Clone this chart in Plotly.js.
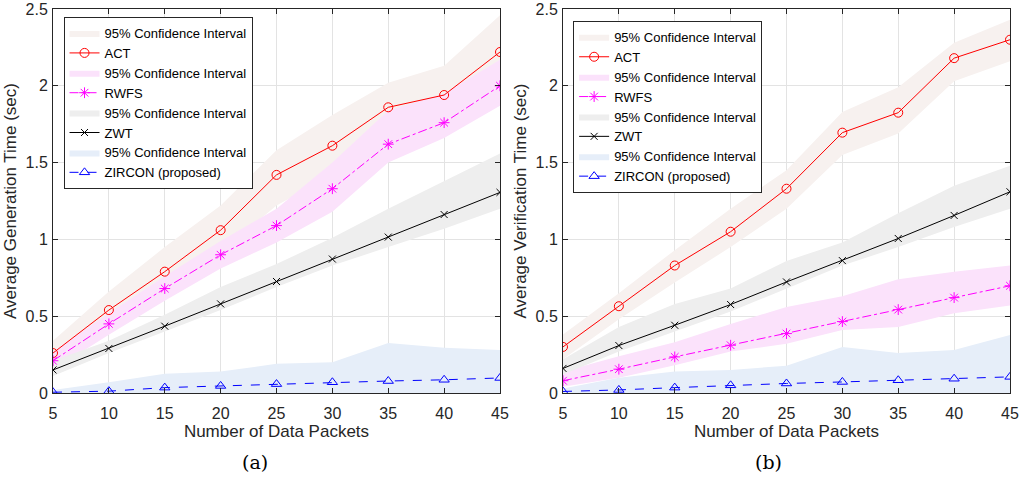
<!DOCTYPE html>
<html>
<head>
<meta charset="utf-8">
<script src="https://cdn.plot.ly/plotly-3.0.1.min.js"></script>
<style>html,body{margin:0;padding:0;background:#fff;}#chart{width:1019px;height:477px;}</style>
</head>
<body>
<div id="chart"></div>
<script>
const packets = [5, 10, 15, 20, 25, 30, 35, 40, 45];

// (a) Average Generation Time
const genACT    = [0.26, 0.54, 0.79, 1.06, 1.42, 1.61, 1.86, 1.94, 2.22];
const genACTlo  = [0.18, 0.43, 0.66, 0.92, 1.22, 1.42, 1.66, 1.75, 2.02];
const genACThi  = [0.34, 0.66, 0.95, 1.22, 1.58, 1.81, 2.02, 2.13, 2.46];
const genRWFS   = [0.21, 0.45, 0.68, 0.90, 1.09, 1.33, 1.62, 1.76, 2.00];
const genRWFSlo = [0.15, 0.38, 0.60, 0.81, 0.98, 1.18, 1.50, 1.66, 1.87];
const genRWFShi = [0.27, 0.52, 0.76, 0.99, 1.20, 1.50, 1.84, 1.95, 2.17];
const genZWT    = [0.15, 0.29, 0.435, 0.58, 0.726, 0.872, 1.015, 1.162, 1.306];
const genZWTlo  = [0.11, 0.26, 0.40, 0.54, 0.69, 0.83, 0.95, 1.07, 1.20];
const genZWThi  = [0.21, 0.34, 0.51, 0.69, 0.84, 1.01, 1.20, 1.38, 1.56];
const genZIR    = [0.005, 0.012, 0.035, 0.046, 0.058, 0.07, 0.078, 0.086, 0.098];
const genZIRlo  = [0.0, 0.0, 0.0, 0.0, 0.0, 0.0, 0.0, 0.0, 0.0];
const genZIRhi  = [0.02, 0.07, 0.125, 0.14, 0.19, 0.20, 0.325, 0.295, 0.28];

// (b) Average Verification Time
const verACT    = [0.30, 0.565, 0.83, 1.05, 1.33, 1.695, 1.825, 2.18, 2.30];
const verACTlo  = [0.22, 0.48, 0.72, 0.95, 1.20, 1.55, 1.69, 2.03, 2.16];
const verACThi  = [0.38, 0.65, 0.93, 1.20, 1.45, 1.83, 1.99, 2.28, 2.43];
const verRWFS   = [0.08, 0.155, 0.235, 0.311, 0.387, 0.465, 0.543, 0.621, 0.698];
const verRWFSlo = [0.04, 0.10, 0.18, 0.27, 0.32, 0.41, 0.43, 0.52, 0.57];
const verRWFShi = [0.14, 0.24, 0.33, 0.45, 0.56, 0.63, 0.74, 0.79, 0.83];
const verZWT    = [0.16, 0.309, 0.441, 0.576, 0.723, 0.862, 1.006, 1.156, 1.31];
const verZWTlo  = [0.12, 0.27, 0.40, 0.53, 0.68, 0.83, 0.95, 1.08, 1.20];
const verZWThi  = [0.22, 0.43, 0.58, 0.68, 0.86, 0.98, 1.17, 1.35, 1.48];
const verZIR    = [0.01, 0.02, 0.035, 0.05, 0.062, 0.072, 0.083, 0.093, 0.105];
const verZIRlo  = [0.0, 0.0, 0.0, 0.0, 0.0, 0.0, 0.0, 0.0, 0.0];
const verZIRhi  = [0.03, 0.10, 0.14, 0.15, 0.178, 0.30, 0.26, 0.28, 0.378];

const seriesNames = ["ACT", "RWFS", "ZWT", "ZIRCON (proposed)"];
const bandName = "95% Confidence Interval";

const styles = [
  {color: "#ff0000", band: "#f7f1ef", symbol: "circle-open", dash: "solid", size: 9},
  {color: "#ff00ff", band: "#fbe2fb", symbol: "asterisk-open", dash: "dashdot", size: 9},
  {color: "#000000", band: "#eeeeee", symbol: "x-thin-open", dash: "solid", size: 7},
  {color: "#0000ff", band: "#e6eef9", symbol: "triangle-up-open", dash: "dash", size: 9}
];

function buildPanel(sets, xa, ya, leg) {
  const bands = [], lines = [];
  sets.forEach((s, i) => {
    const st = styles[i];
    bands.push({
      x: packets.concat(packets.slice().reverse()),
      y: s.hi.concat(s.lo.slice().reverse()),
      type: "scatter", mode: "lines", fill: "toself",
      fillcolor: st.band, line: {width: 0, color: st.band},
      name: bandName, xaxis: xa, yaxis: ya, legend: leg, legendrank: 2 * i + 1, hoverinfo: "skip"
    });
    lines.push({
      x: packets, y: s.mid, type: "scatter", mode: "lines+markers",
      name: seriesNames[i], xaxis: xa, yaxis: ya, legend: leg, legendrank: 2 * i + 2,
      line: {color: st.color, width: 1, dash: st.dash},
      marker: {symbol: st.symbol, size: st.size, color: st.color, line: {color: st.color, width: 1}}
    });
  });
  return bands.concat(lines);
}

const data = buildPanel([
  {mid: genACT, lo: genACTlo, hi: genACThi},
  {mid: genRWFS, lo: genRWFSlo, hi: genRWFShi},
  {mid: genZWT, lo: genZWTlo, hi: genZWThi},
  {mid: genZIR, lo: genZIRlo, hi: genZIRhi}
], "x", "y", "legend").concat(buildPanel([
  {mid: verACT, lo: verACTlo, hi: verACThi},
  {mid: verRWFS, lo: verRWFSlo, hi: verRWFShi},
  {mid: verZWT, lo: verZWTlo, hi: verZWThi},
  {mid: verZIR, lo: verZIRlo, hi: verZIRhi}
], "x2", "y2", "legend2"));

const fam = "Liberation Sans, Arial, sans-serif";
const ink = "#262626";
const xTicks = packets;
const yTicks = [0, 0.5, 1, 1.5, 2, 2.5];

function xAxis(domain, anchor) {
  return {
    domain: domain, anchor: anchor, range: [5, 45], tickvals: xTicks,
    ticks: "inside", ticklen: 5, tickcolor: ink, mirror: "ticks",
    showline: true, linecolor: ink, linewidth: 1,
    showgrid: true, gridcolor: "#e3e3e3", zeroline: false,
    tickfont: {family: fam, size: 16, color: ink}, ticklabelstandoff: 6,
    title: {text: "Number of Data Packets", font: {family: fam, size: 17, color: ink}, standoff: 0},
    automargin: false
  };
}
function yAxis(anchor, title) {
  return {
    anchor: anchor, domain: [0, 1], range: [0, 2.5], tickvals: yTicks,
    ticks: "inside", ticklen: 5, tickcolor: ink, mirror: "ticks",
    showline: true, linecolor: ink, linewidth: 1,
    showgrid: true, gridcolor: "#e3e3e3", zeroline: false,
    tickfont: {family: fam, size: 16, color: ink}, ticklabelstandoff: 1,
    title: {text: title, font: {family: fam, size: 17, color: ink}, standoff: 4},
    automargin: false
  };
}

const legendCommon = {
  bgcolor: "#ffffff", bordercolor: ink, borderwidth: 1,
  font: {family: fam, size: 13, color: "#000000"},
  xanchor: "left", yanchor: "top", tracegroupgap: 0, itemwidth: 30, traceorder: "normal"
};

const layout = {
  width: 1019, height: 477,
  margin: {l: 53, r: 9, t: 9, b: 84},
  paper_bgcolor: "#ffffff", plot_bgcolor: "#ffffff",
  font: {family: fam, size: 14, color: ink},
  showlegend: true,
  xaxis: xAxis([0, 0.4671], "y"),
  yaxis: yAxis("x", "Average Generation Time (sec)"),
  xaxis2: xAxis([0.5329, 1], "y2"),
  yaxis2: yAxis("x2", "Average Verification Time (sec)"),
  legend: Object.assign({x: 0.011, y: 0.979}, legendCommon),
  legend2: Object.assign({x: 0.5435, y: 0.969}, legendCommon),
  annotations: [
    {text: "(a)", xref: "paper", yref: "paper", x: 0.2115, y: -0.18, xanchor: "center", yanchor: "middle", showarrow: false,
     font: {family: "DejaVu Serif, Liberation Serif, serif", size: 19, color: "#000"}},
    {text: "(b)", xref: "paper", yref: "paper", x: 0.7477, y: -0.18, xanchor: "center", yanchor: "middle", showarrow: false,
     font: {family: "DejaVu Serif, Liberation Serif, serif", size: 19, color: "#000"}}
  ]
};

Plotly.newPlot("chart", data, layout, {displayModeBar: false, staticPlot: true});
</script>
</body>
</html>
